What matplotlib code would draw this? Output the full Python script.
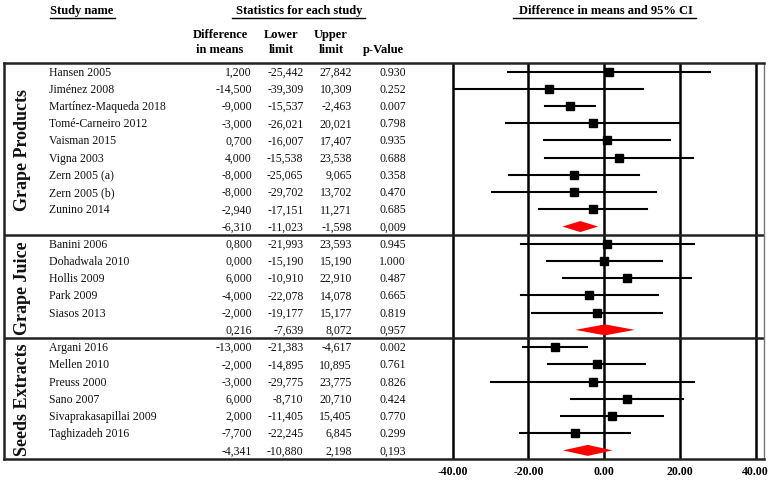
import matplotlib
matplotlib.use("Agg")
import matplotlib.pyplot as plt
import numpy as np

plt.rcParams['font.family'] = ['Liberation Serif', 'DejaVu Serif']

# data
groups = ["Grape Products", "Grape Juice", "Seeds Extracts"]

names_products = ["Hansen 2005", "Jiménez 2008", "Martínez-Maqueda 2018", "Tomé-Carneiro 2012",
                  "Vaisman 2015", "Vigna 2003", "Zern 2005 (a)", "Zern 2005 (b)", "Zunino 2014"]
diff_products = [1.200, -14.500, -9.000, -3.000, 0.700, 4.000, -8.000, -8.000, -2.940]
lower_products = [-25.442, -39.309, -15.537, -26.021, -16.007, -15.538, -25.065, -29.702, -17.151]
upper_products = [27.842, 10.309, -2.463, 20.021, 17.407, 23.538, 9.065, 13.702, 11.271]
p_products = [0.930, 0.252, 0.007, 0.798, 0.935, 0.688, 0.358, 0.470, 0.685]

names_juice = ["Banini 2006", "Dohadwala 2010", "Hollis 2009", "Park 2009", "Siasos 2013"]
diff_juice = [0.800, 0.000, 6.000, -4.000, -2.000]
lower_juice = [-21.993, -15.190, -10.910, -22.078, -19.177]
upper_juice = [23.593, 15.190, 22.910, 14.078, 15.177]
p_juice = [0.945, 1.000, 0.487, 0.665, 0.819]

names_seeds = ["Argani 2016", "Mellen 2010", "Preuss 2000", "Sano 2007",
               "Sivaprakasapillai 2009", "Taghizadeh 2016"]
diff_seeds = [-13.000, -2.000, -3.000, 6.000, 2.000, -7.700]
lower_seeds = [-21.383, -14.895, -29.775, -8.710, -11.405, -22.245]
upper_seeds = [-4.617, 10.895, 23.775, 20.710, 15.405, 6.845]
p_seeds = [0.002, 0.761, 0.826, 0.424, 0.770, 0.299]

# pooled effect per group
pooled_diff = [-6.310, 0.216, -4.341]
pooled_lower = [-11.023, -7.639, -10.880]
pooled_upper = [-1.598, 8.072, 2.198]
pooled_p = [0.009, 0.957, 0.193]

x_ticks = [-40, -20, 0, 20, 40]

W, H = 773, 481
fig = plt.figure(figsize=(W / 100, H / 100), dpi=100)


def px_axes(left, top, right, bottom):
    return fig.add_axes([left / W, 1 - bottom / H, (right - left) / W, (bottom - top) / H])


TOP, BOT = 64, 460
n_rows = len(names_products) + len(names_juice) + len(names_seeds) + 3

axt = px_axes(4, TOP, 440, BOT)
axt.set_xlim(4, 440)
axt.set_ylim(n_rows - 0.5, -0.5)
axt.axis("off")

axf = px_axes(440, TOP, 764, BOT)
axf.set_facecolor("none")
axf.set_xlim(-43.35, 42.19)
axf.set_ylim(n_rows - 0.5, -0.5)
axf.set_yticks([])
axf.set_xticks(x_ticks)
axf.set_xticklabels(["%.2f" % t for t in x_ticks], fontweight="bold", fontsize=8.5)
axf.tick_params(axis="x", length=0, pad=4)
for s in ["top", "bottom", "left"]:
    axf.spines[s].set_visible(False)
axf.spines["right"].set_color("#777777")
axf.spines["right"].set_linewidth(1.0)
for t in x_ticks:
    axf.axvline(t, color="black", lw=1.8, zorder=1)

# overlay for headers and outer frame
ax0 = px_axes(0, 0, W, H)
ax0.set_xlim(0, W)
ax0.set_ylim(H, 0)
ax0.axis("off")

hdr = dict(fontsize=9, fontweight="bold", va="center")
ax0.text(50, 11, "Study name", ha="left", **hdr)
ax0.plot([50, 115], [18.5, 18.5], color="black", lw=1)
ax0.text(299, 11, "Statistics for each study", ha="center", **hdr)
ax0.plot([232, 365], [18.5, 18.5], color="black", lw=1)
ax0.text(606, 11, "Difference in means and 95% CI", ha="center", **hdr)
ax0.plot([513, 696], [18.5, 18.5], color="black", lw=1)
for xc, l1, l2 in [(220, "Difference", "in means"), (281, "Lower", "limit"), (331, "Upper", "limit")]:
    ax0.text(xc, 35, l1, ha="center", **hdr)
    ax0.text(xc, 50, l2, ha="center", **hdr)
ax0.text(383, 50, "p-Value", ha="center", **hdr)

ax0.plot([4, 764], [TOP, TOP], color="#222222", lw=1.8)
ax0.plot([4, 764], [BOT, BOT], color="#222222", lw=1.8)
ax0.plot([4, 4], [TOP, BOT], color="#222222", lw=1.8)


def fmt(v, nd=3):
    return ("%.*f" % (nd, v)).replace(".", ",")


data = [
    (names_products, diff_products, lower_products, upper_products, p_products),
    (names_juice, diff_juice, lower_juice, upper_juice, p_juice),
    (names_seeds, diff_seeds, lower_seeds, upper_seeds, p_seeds),
]

txt = dict(fontsize=8.5, va="center", color="#111111")
row = 0
for g, (names, diff, lo, hi, pv) in enumerate(data):
    start = row
    for i in range(len(names)):
        axt.text(49, row, names[i], ha="left", **txt)
        axt.text(252, row, fmt(diff[i]), ha="right", **txt)
        axt.text(303.5, row, fmt(lo[i]), ha="right", **txt)
        axt.text(352, row, fmt(hi[i]), ha="right", **txt)
        axt.text(406, row, "%.3f" % pv[i], ha="right", **txt)
        axf.plot([lo[i], hi[i]], [row, row], color="black", lw=1.5, zorder=2)
        axf.plot(diff[i], row, marker="s", ms=6, color="black", zorder=3)
        row += 1
    # pooled row
    axt.text(252, row, fmt(pooled_diff[g]), ha="right", **txt)
    axt.text(303.5, row, fmt(pooled_lower[g]), ha="right", **txt)
    axt.text(352, row, fmt(pooled_upper[g]), ha="right", **txt)
    axt.text(406, row, fmt(pooled_p[g]), ha="right", **txt)
    h = 0.32
    axf.fill([pooled_lower[g], pooled_diff[g], pooled_upper[g], pooled_diff[g]],
             [row, row - h, row, row + h], color="#ff0000", lw=0, zorder=3)
    lab = axt.text(23, (start + row) / 2, groups[g], rotation=90, ha="center", va="center",
                   fontsize=13, fontweight="bold", color="#111111")
    lab.set_clip_on(True)
    if g < len(data) - 1:
        axt.axhline(row + 0.5, color="#222222", lw=1.8)
        axf.axhline(row + 0.5, color="#222222", lw=1.8)
    row += 1

fig.savefig("out.png", dpi=100)
